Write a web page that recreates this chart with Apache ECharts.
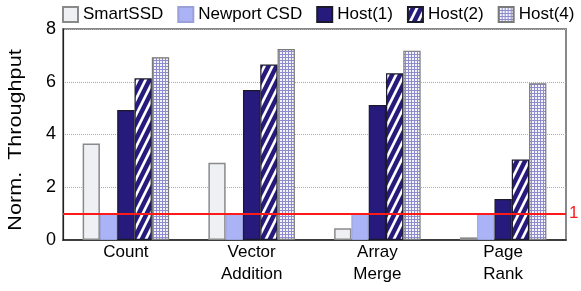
<!DOCTYPE html>
<html><head><meta charset="utf-8">
<script src="https://cdn.jsdelivr.net/npm/echarts@6/dist/echarts.min.js"></script>
<style>html,body{margin:0;padding:0;background:#fff}#c{width:581px;height:291px}</style>
</head><body><div id="c"></div>
<script>
const categories = ['Count', 'Vector\nAddition', 'Array\nMerge', 'Page\nRank'];
const seriesNames = ['SmartSSD', 'Newport CSD', 'Host(1)', 'Host(2)', 'Host(4)'];
const smartSSD = [3.66, 2.93, 0.45, 0.1];
const newportCSD = [1, 1, 1, 1];
const host1 = [4.93, 5.69, 5.12, 1.55];
const host2 = [6.13, 6.65, 6.32, 3.05];
const host4 = [6.93, 7.24, 7.18, 5.94];
const yTicks = [0, 2, 4, 6, 8];
const baseline = 1;

function stripePattern() {
  const c = document.createElement('canvas');
  c.width = 8; c.height = 16;
  const g = c.getContext('2d');
  g.fillStyle = '#261a7c'; g.fillRect(0, 0, 8, 16);
  g.fillStyle = '#ffffff';
  for (let x0 = -16; x0 <= 8; x0 += 8) {
    g.beginPath();
    g.moveTo(x0, 16); g.lineTo(x0 + 3, 16); g.lineTo(x0 + 11, 0); g.lineTo(x0 + 8, 0);
    g.closePath(); g.fill();
  }
  return c;
}
function gridPattern() {
  const c = document.createElement('canvas');
  c.width = 3; c.height = 3;
  const g = c.getContext('2d');
  g.fillStyle = '#f4f4fb'; g.fillRect(0, 0, 3, 3);
  g.fillStyle = '#8e8ccf';
  g.fillRect(0, 0, 3, 1); g.fillRect(0, 0, 1, 3);
  return c;
}

const styles = [
  { color: '#eff0f4', borderColor: '#8a8a8a', borderWidth: 1.5 },
  { color: '#aab3f6', borderColor: '#9aa0d8', borderWidth: 1 },
  { color: '#261a7c', borderColor: '#1a1a2a', borderWidth: 1.2 },
  { color: { image: stripePattern(), repeat: 'repeat' }, borderColor: '#1a1a2a', borderWidth: 1.2 },
  { color: { image: gridPattern(), repeat: 'repeat' }, borderColor: '#7a7a7a', borderWidth: 1.2 }
];
const data = [smartSSD, newportCSD, host1, host2, host4];

const font = 'Liberation Sans, Arial, sans-serif';
const chart = echarts.init(document.getElementById('c'), null, { renderer: 'canvas' });
const series = seriesNames.map((n, i) => ({
  name: n, type: 'bar', data: data[i], barWidth: 17.3, barGap: '0%',
  itemStyle: styles[i], z: 3
}));
series[4].markLine = {
  silent: true, symbol: 'none', z: 10,
  lineStyle: { color: '#ff1a1a', width: 2.2, type: 'solid' },
  label: { show: true, position: 'end', formatter: '1', color: '#ff1a1a', fontSize: 17, fontFamily: font, distance: 3 },
  data: [{ yAxis: baseline }]
};
chart.setOption({
  animation: false,
  textStyle: { fontFamily: font },
  legend: {
    left: 62, top: 6, width: 519, padding: 0, itemWidth: 15, itemHeight: 15, itemGap: 14, icon: 'rect',
    textStyle: { fontSize: 17, color: '#000', fontFamily: font },
    data: seriesNames
  },
  grid: { left: 63, right: 15, top: 29, bottom: 51, show: true, borderColor: '#888', borderWidth: 2, backgroundColor: 'transparent' },
  xAxis: {
    type: 'category', data: categories,
    axisLine: { lineStyle: { color: '#222', width: 1.5 } },
    axisTick: { show: false },
    axisLabel: { fontSize: 17, color: '#000', lineHeight: 22, margin: 1, fontFamily: font }
  },
  yAxis: {
    type: 'value', min: 0, max: 8, interval: 2,
    axisLine: { show: true, lineStyle: { color: '#222', width: 1.2 } },
    axisTick: { show: false },
    axisLabel: { fontSize: 18, color: '#000', margin: 7, fontFamily: font },
    splitLine: { show: true, lineStyle: { color: '#aaa', type: 'dotted', width: 1 } }
  },
  graphic: [{
    type: 'text', x: 16, y: 140, rotation: Math.PI / 2, scaleX: 1.2,
    style: { text: 'Norm.  Throughput', font: '18px ' + font, fill: '#000', textAlign: 'center', textVerticalAlign: 'middle' }
  }],
  series: series
});
</script></body></html>
